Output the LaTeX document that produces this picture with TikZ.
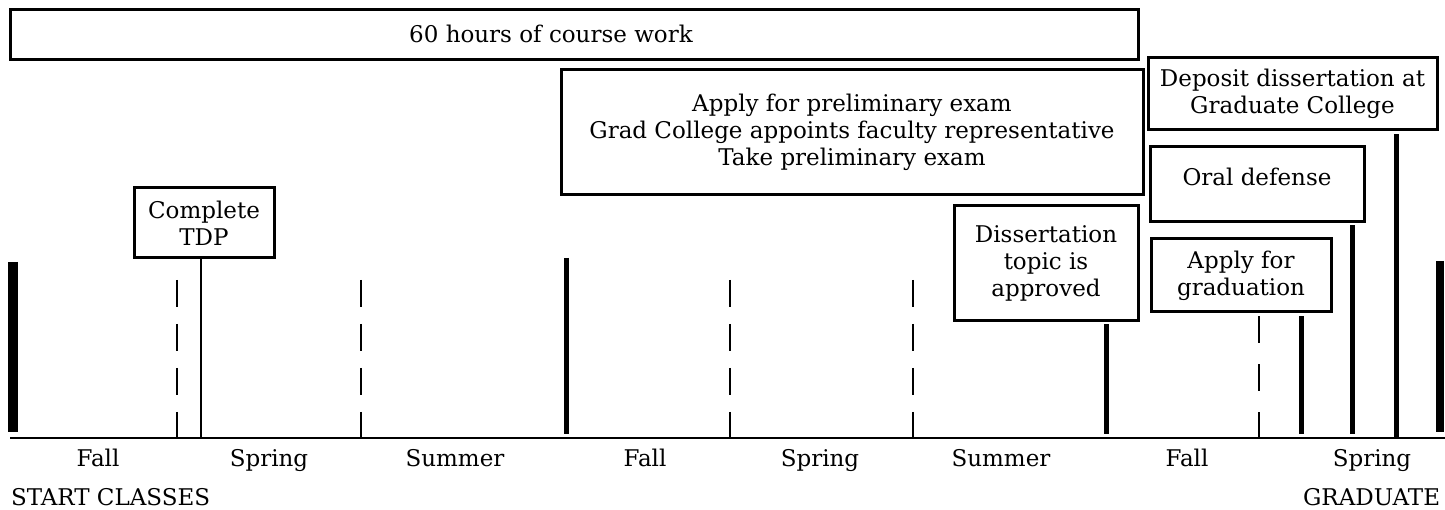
\documentclass[tikz,border=0pt]{standalone}
\usepackage{fontspec}
\setmainfont{DejaVu Serif}
\begin{document}
\begin{tikzpicture}[x=0.4pt,y=-0.4pt,line width=0.8pt,
  font=\fontsize{9.2}{10.8}\selectfont,
  box/.style 2 args={draw,line width=1.2pt,inner sep=0pt,align=center,
    minimum width=#1*0.4pt,minimum height=#2*0.4pt},
  txt/.style={inner sep=0pt,align=center},
  bar/.style={line width=2pt},
  dashbar/.style={line width=0.8pt,dash pattern=on 10.8pt off 6.8pt}]
\useasboundingbox (0,0) rectangle (1445,510);
		% boxes
		\node[box={1128}{50}] (course) at (574,35) {};
		\node[txt] (coursetxt) at (551,34) {60 hours of course work};
		\node[box={582}{125}] (prelim) at (852,132.5) {Apply for preliminary exam\\Grad College appoints faculty representative\\Take preliminary exam};
		\node[box={289}{72}] (deposit) at (1292.5,94) {Deposit dissertation at\\Graduate College};
		\node[box={214}{75}] (oral) at (1257,184.5) {};
		\node[txt] (oraltxt) at (1257,177) {Oral defense};
		\node[box={140}{70}] (tdp) at (204,223) {Complete\\TDP};
		\node[box={184}{115}] (topic) at (1046,263.5) {Dissertation\\topic is\\approved};
		\node[box={180}{73}] (grad) at (1241,275.5) {Apply for\\graduation};
		% time line
		\coordinate (start) at (10,438);
		\coordinate (end) at (1445,438);
		\draw[line width=1pt] (start) -- (end);
		\draw[line width=4pt] (13,262) -- (13,432);
		\draw[bar] (566,258) -- (566,434);
		\draw[line width=3pt] (1440,261) -- (1440,432);
		\foreach \x in {177,361,730,913}
			\draw[dashbar] (\x,280) -- (\x,438);
		% box feet
		\coordinate (tdpfoot) at (201,438);
		\coordinate (topicfoot) at (1106,434);
		\coordinate (gradfoot) at (1259,438);
		\coordinate (gradfoot2) at (1301,434);
		\coordinate (oralfoot) at (1352,434);
		\coordinate (depositfoot) at (1396,438);
		\draw (tdp.south -| tdpfoot) -- (tdpfoot);
		\draw[bar] ([yshift=-0.8pt]topic.south -| topicfoot) -- (topicfoot);
		\draw[dashbar,dash pattern=on 10.8pt off 8.4pt] ([yshift=-1.2pt]grad.south -| gradfoot) -- (gradfoot);
		\draw[bar] ([yshift=-1.2pt]grad.south -| gradfoot2) -- (gradfoot2);
		\draw[bar] ([yshift=-0.8pt]oral.south -| oralfoot) -- (oralfoot);
		\draw[bar] ([yshift=-1.2pt]deposit.south -| depositfoot) -- (depositfoot);
		% terms
		\foreach \x/\t [count=\i] in {98/Fall,269/Spring,455/Summer,645/Fall,820/Spring,1001/Summer,1187/Fall,1372/Spring}
			\node[txt,anchor=base] (term\i) at (\x,467) {\t};
		\node[txt,anchor=base west] (startcl) at (10,506) {START CLASSES};
		\node[txt,anchor=base east] (graduate) at (1441,506) {GRADUATE};
\end{tikzpicture}
\end{document}
